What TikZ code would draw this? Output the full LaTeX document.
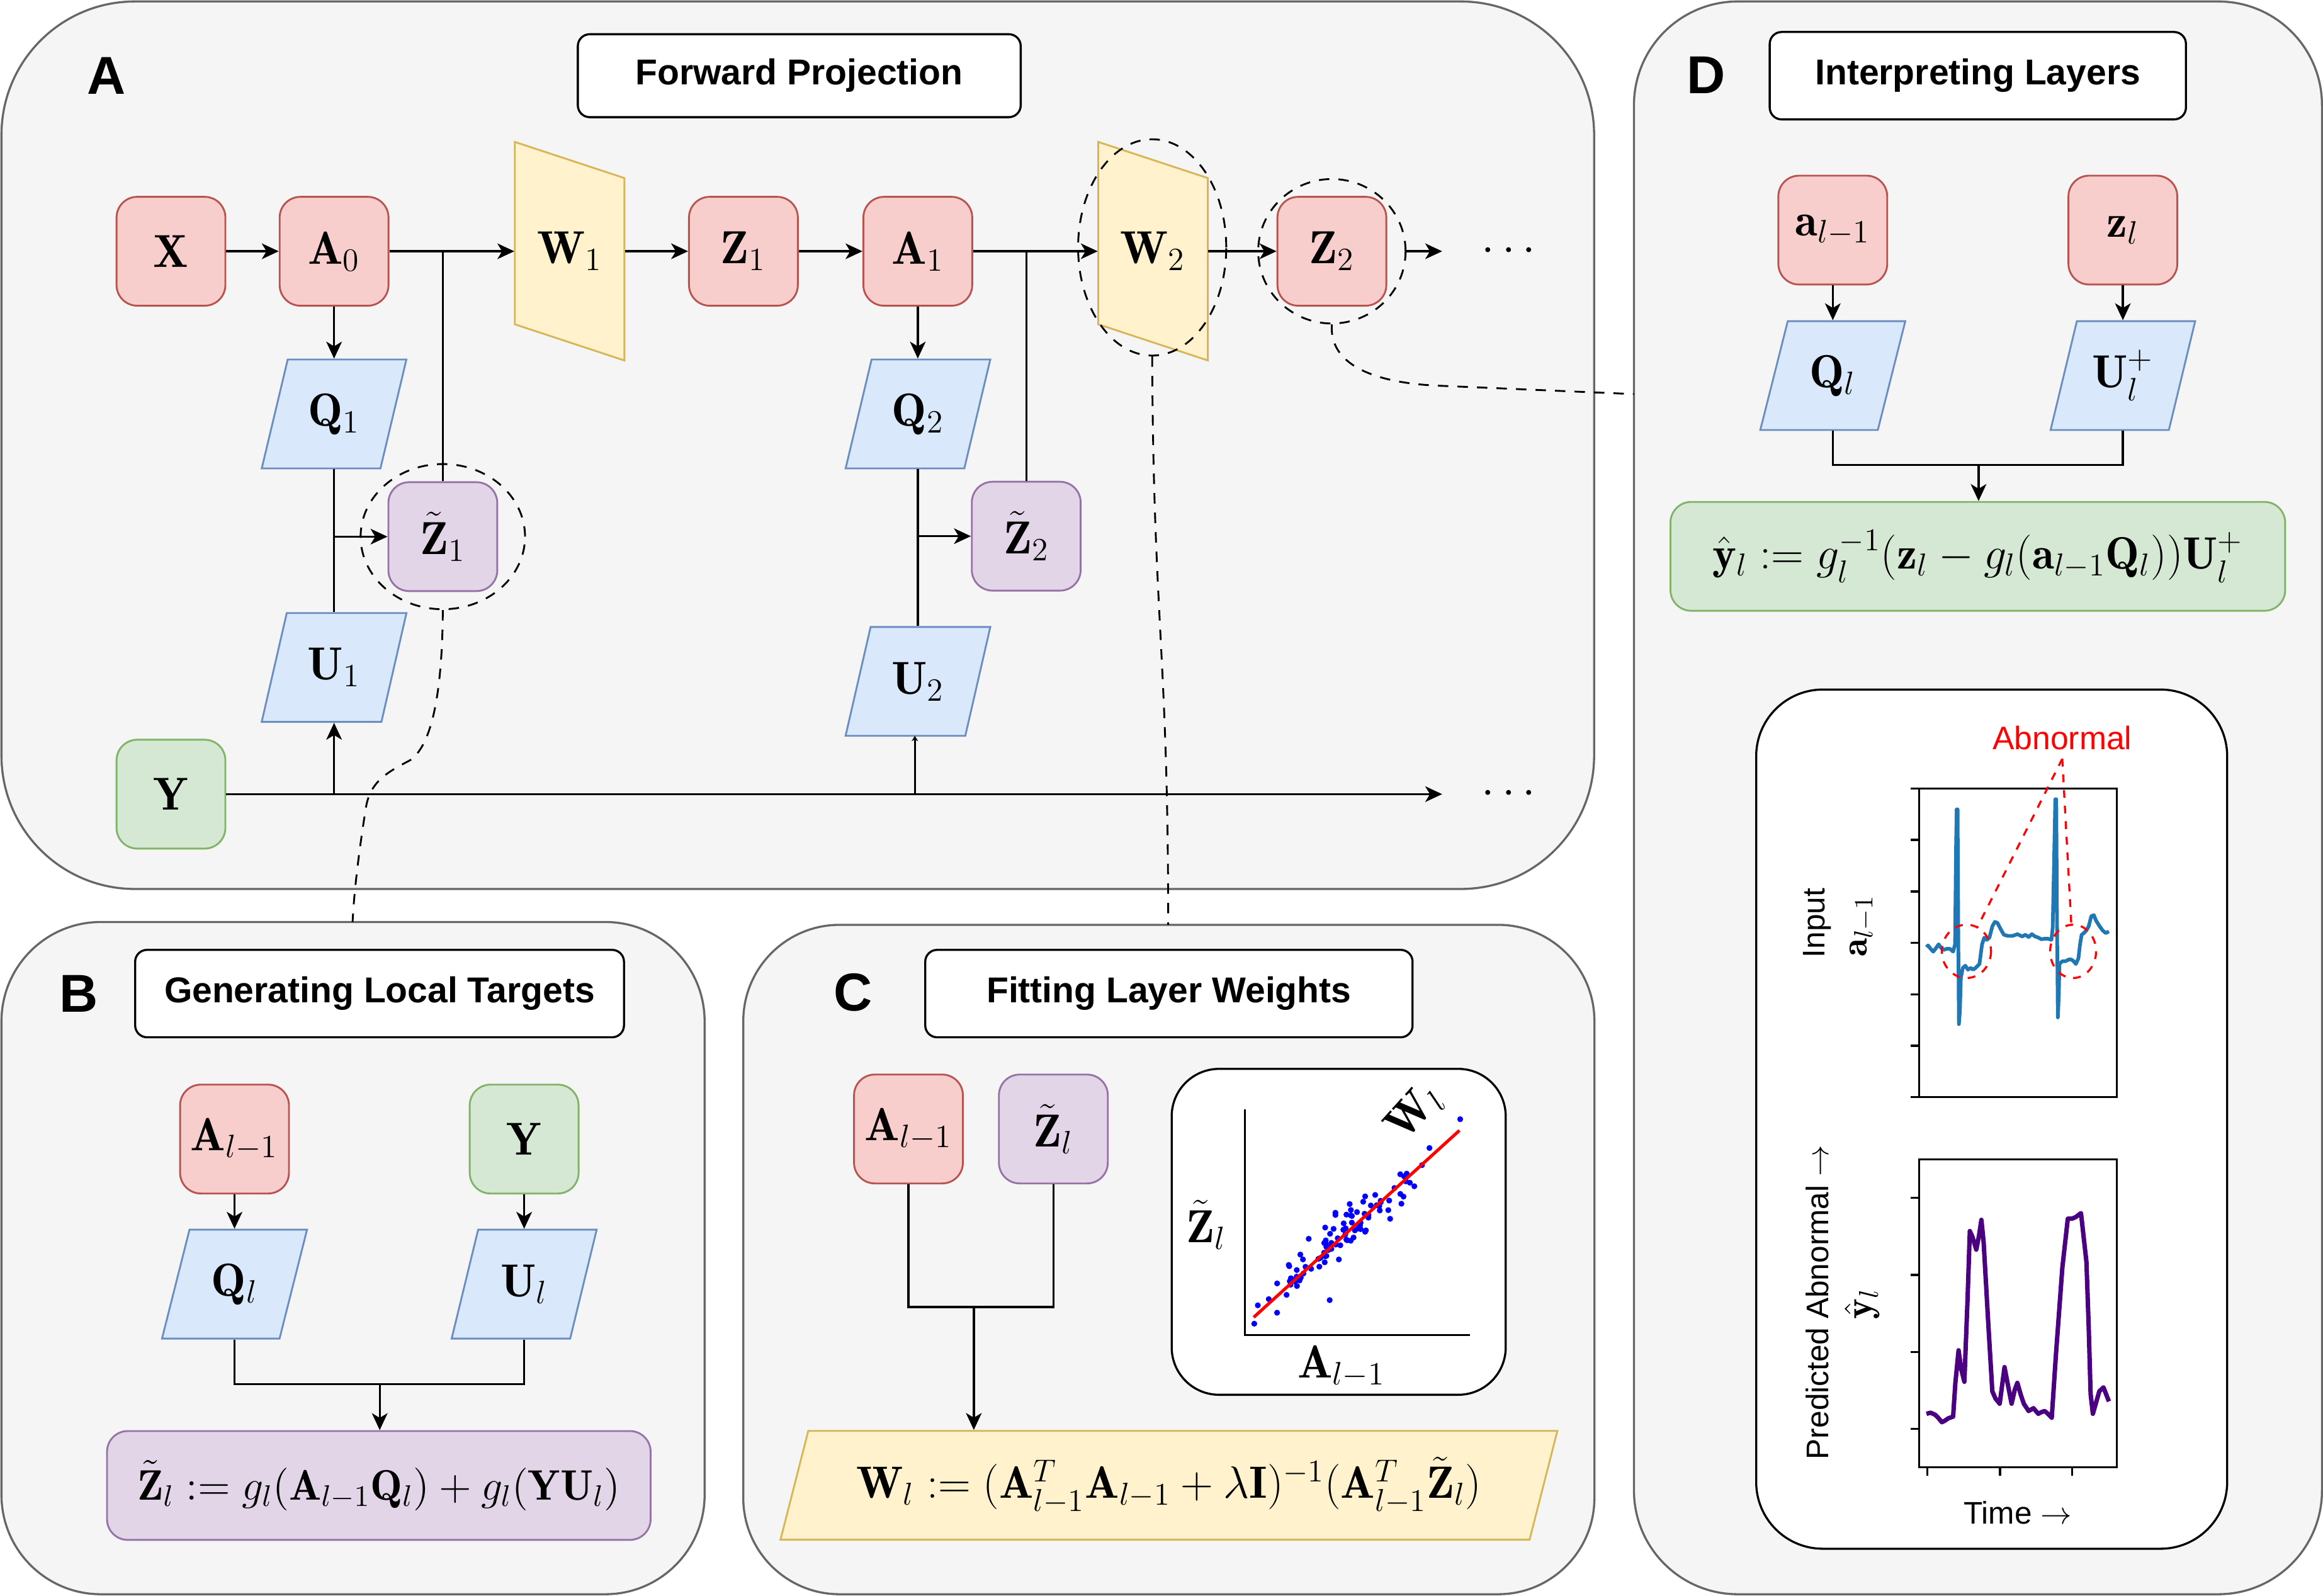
\RequirePackage{fix-cm}
\documentclass[tikz,border=0pt]{standalone}
\usepackage{amsmath}
\usepackage{fontspec}
\setsansfont{Liberation Sans}
\usetikzlibrary{positioning, shapes.geometric, arrows.meta, calc}

\definecolor{redfill}{HTML}{F8CECC}
\definecolor{reddraw}{HTML}{B85450}
\definecolor{yelfill}{HTML}{FFF2CC}
\definecolor{yeldraw}{HTML}{D6B656}
\definecolor{bluefill}{HTML}{DAE8FC}
\definecolor{bluedraw}{HTML}{6C8EBF}
\definecolor{purpfill}{HTML}{E1D5E7}
\definecolor{purpdraw}{HTML}{9673A6}
\definecolor{grnfill}{HTML}{D5E8D4}
\definecolor{grndraw}{HTML}{82B366}
\definecolor{panelfill}{HTML}{F5F5F5}
\definecolor{paneldraw}{HTML}{666666}
\definecolor{ecgblue}{HTML}{1F77B4}
\definecolor{predpurple}{HTML}{4B0082}

\tikzset{
	panel/.style={draw=paneldraw, fill=panelfill, line width=0.8pt},
	titlebox/.style={draw, fill=white, rounded corners=0.16cm, line width=0.8pt,
		font=\sffamily\bfseries\fontsize{13.8}{16}\selectfont},
	panelletter/.style={font=\sffamily\bfseries\fontsize{20.5}{24}\selectfont},
	mathfont/.style={font=\fontsize{17.8}{20}\selectfont},
	blk/.style={rectangle, rounded corners=0.28cm, minimum width=1.47cm,
		minimum height=1.47cm, line width=0.7pt, mathfont},
	redbox/.style={blk, draw=reddraw, fill=redfill},
	grnbox/.style={blk, draw=grndraw, fill=grnfill},
	purpbox/.style={blk, draw=purpdraw, fill=purpfill},
	para/.style={trapezium, trapezium left angle=71.7, trapezium right angle=108.3,
		trapezium stretches=true, minimum width=1.96cm, minimum height=1.47cm,
		draw=bluedraw, fill=bluefill, line width=0.7pt, mathfont},
	wshape/.style={draw=yeldraw, fill=yelfill, line width=0.7pt},
	wtext/.style={rectangle, minimum width=1.48cm, minimum height=1.47cm, mathfont},
	ringmark/.style={ellipse, draw, dash pattern=on 4pt off 3.5pt, line width=0.7pt, inner sep=0pt},
	lead/.style={dash pattern=on 4pt off 3.5pt, line width=0.7pt},
	conn/.style={line width=0.8pt},
	arr/.style={conn, -{Stealth[length=6.5pt, width=6pt, inset=1.8pt]}},
	tinyarr/.style={conn, -{Stealth[length=2pt, width=2.5pt]}},
	formula/.style={font=\fontsize{17.4}{20}\selectfont},
	plotlabel/.style={font=\sffamily\fontsize{12}{14}\selectfont},
}

\begin{document}
\begin{tikzpicture}[x=0.02cm, y=-0.02cm]
	\useasboundingbox (0,0) rectangle (1568,1077);

	% Panels
	\draw[panel, rounded corners=1.8cm] (1,1) rectangle (1076,600);
	\draw[panel, rounded corners=1.34cm] (1,622.3) rectangle (475.6,1076);
	\draw[panel, rounded corners=1.3cm] (501.7,624.2) rectangle (1076.2,1076);
	\draw[panel, rounded corners=1.4cm] (1102.9,1) rectangle (1567.3,1076);

	% A: forward projection
	\node[panelletter] (la) at (72,51) {A};
	\node[titlebox, minimum width=5.98cm, minimum height=1.12cm] (ta) at (539.5,51.1) {Forward Projection};

	\coordinate (w1c) at (384.5,169.6);
	\coordinate (w2c) at (778.3,169.6);
	\foreach \w in {w1c, w2c}
		\filldraw[wshape] ($(\w)+(-37,-73.8)$) -- ++(74,24.4) -- ++(0,123.1)
			-- ++(-74,-24.4) -- cycle;

	\node[redbox] (x) at (115.4,169.6) {$\mathbf{X}$};
	\node[redbox] (a0) at (225.5,169.6) {$\mathbf{A}_0$};
	\node[wtext] (w1) at (w1c) {$\mathbf{W}_1$};
	\node[redbox] (z1) at (501.8,169.6) {$\mathbf{Z}_1$};
	\node[redbox] (a1) at (619.5,169.6) {$\mathbf{A}_1$};
	\node[wtext] (w2) at (w2c) {$\mathbf{W}_2$};
	\node[redbox] (z2) at (899,169.6) {$\mathbf{Z}_2$};
	\node[mathfont, inner xsep=15pt] (dots1) at (1021,169.6) {$\cdots$};

	\node[para] (q1) at (225.5,279.4) {$\mathbf{Q}_1$};
	\node[purpbox] (zt1) at (298.9,362.2) {$\tilde{\mathbf{Z}}_1$};
	\node[para] (u1) at (225.5,450.5) {$\mathbf{U}_1$};
	\node[para] (q2) at (619.6,279.4) {$\mathbf{Q}_2$};
	\node[purpbox] (zt2) at (692.7,361.9) {$\tilde{\mathbf{Z}}_2$};
	\node[para] (u2) at (619.6,459.9) {$\mathbf{U}_2$};

	\node[grnbox] (y) at (115.4,536) {$\mathbf{Y}$};
	\node[mathfont, inner xsep=15pt] (dots2) at (1021,536) {$\cdots$};

	\draw[arr] (x) -- (a0);
	\draw[arr] (a0) -- (w1);
	\draw[arr] (w1) -- (z1);
	\draw[arr] (z1) -- (a1);
	\draw[arr] (a1) -- (w2);
	\draw[arr] (w2) -- (z2);
	\draw[arr] (y) -- (dots2);

	\draw[arr] (a0) -- (a0 |- q1.north);
	\draw[conn] (a0 |- q1.south) -- (a0 |- u1.north);
	\draw[arr] (a0 |- zt1) -- (zt1);
	\draw[conn] (zt1.north) -- (zt1.north |- a0);
	\draw[arr] (a0 |- y) -- (a0 |- u1.south);

	\draw[arr] (a1) -- (a1 |- q2.north);
	\draw[conn] (a1 |- q2.south) -- (a1 |- u2.north);
	\draw[arr] (a1 |- zt2) -- (zt2);
	\draw[conn] (zt2.north) -- (zt2.north |- a1);
	\draw[tinyarr] (617.5,536) -- (617.5,496.7);

	% rings
	\node[ringmark, minimum width=2.22cm, minimum height=1.96cm] (zt1ring) at (zt1) {};
	\node[ringmark, minimum width=2.0cm, minimum height=2.92cm] (w2ring) at (777.7,167) {};
	\node[ringmark, minimum width=1.99cm, minimum height=1.95cm] (z2ring) at (z2) {};
	\draw[arr] (z2ring.east) -- (dots1);

	% leads to B, C, D
	\coordinate (btop) at (238,622.3);
	\coordinate (ctop) at (788.5,624.2);
	\coordinate (dleft) at (1102.9,266);
	\draw[lead] (zt1ring.south) .. controls (298.5,470) and (291,503) .. (277,513)
		.. controls (262,521) and (250,527) .. (247,545)
		.. controls (243,570) and (239,600) .. (btop);
	\draw[lead] (w2ring.south) .. controls (778.5,420) and (788.5,440) .. (ctop);
	\draw[lead] (z2ring.south) .. controls (897,245) and (925,259) .. (975,260.5) -- (dleft);

	% B: local targets
	\node[panelletter] (lb) at (53,670.5) {B};
	\node[titlebox, minimum width=6.6cm, minimum height=1.18cm] (tb) at (256.2,670.6) {Generating Local Targets};
	\node[redbox] (ba) at (158.3,768.8) {$\mathbf{A}_{l-1}$};
	\node[grnbox] (by) at (353.8,768.8) {$\mathbf{Y}$};
	\node[para] (bq) at (158.3,866.7) {$\mathbf{Q}_l$};
	\node[para] (bu) at (353.8,866.7) {$\mathbf{U}_l$};
	\node[purpbox, formula, font=\fontsize{16.4}{19}\selectfont, minimum width=7.34cm] (bf) at (255.7,1002.6)
		{$\tilde{\mathbf{Z}}_l := g_l(\mathbf{A}_{l-1}\mathbf{Q}_l) + g_l(\mathbf{Y}\mathbf{U}_l)$};
	\coordinate (bmid) at (256.3,934.3);
	\draw[arr] (ba) -- (ba |- bq.north);
	\draw[arr] (by) -- (by |- bu.north);
	\draw[conn] (ba |- bq.south) |- (bmid) -| (by |- bu.south);
	\draw[arr] (bmid) -- (bmid |- bf.north);

	% C: layer weights
	\node[panelletter] (lc) at (575.8,669.8) {C};
	\node[titlebox, minimum width=6.58cm, minimum height=1.18cm] (tc) at (789,670.6) {Fitting Layer Weights};
	\node[redbox] (ca) at (613.2,762) {$\mathbf{A}_{l-1}$};
	\node[purpbox] (cz) at (711,762) {$\tilde{\mathbf{Z}}_l$};
	\node[para, formula, draw=yeldraw, fill=yelfill, minimum width=10.51cm,
		trapezium left angle=71.5, trapezium right angle=108.5] (cf) at (789,1002.5)
		{$\mathbf{W}_l := (\mathbf{A}_{l-1}^{T}\mathbf{A}_{l-1} + \lambda\mathbf{I})^{-1}(\mathbf{A}_{l-1}^{T}\tilde{\mathbf{Z}}_l)$};
	\coordinate (cmid) at (657.3,882.1);
	\draw[conn] (ca.south) |- (cmid) -| (cz.south);
	\draw[arr] (cmid) -- (cmid |- cf.north);

	\node[draw, fill=white, rounded corners=0.64cm, line width=0.8pt,
		minimum width=4.51cm, minimum height=4.4cm] (plotc) at (903.6,831.4) {};
	\draw[line width=0.6pt] (840.3,748.9) -- (840.3,901) -- (992.1,901);
	\pgfmathsetseed{11}
	\foreach \i in {1,...,95} {
		\pgfmathsetmacro\tpos{0.03+0.88*(rnd+rnd)/2}
		\pgfmathsetmacro\dpos{(rnd+rnd+rnd-1.5)*12}
		\fill[blue] ({846.2+138.9*\tpos+0.672*\dpos},{889.1-126.1*\tpos+0.740*\dpos}) circle [radius=2];
	}
	\foreach \p in {(846.6,893.4), (985.6,755.4), (849,881), (862,886), (897.5,877.5)}
		\fill[blue] \p circle [radius=2];
	\draw[red, line width=1.2pt] (846.2,889.1) -- (985.1,763.0);
	\node[mathfont] (czlab) at (814.3,826.5) {$\tilde{\mathbf{Z}}_l$};
	\node[mathfont] (calab) at (905.4,922.4) {$\mathbf{A}_{l-1}$};
	\node[mathfont, rotate=48] (cwlab) at (955,751) {$\mathbf{W}_l$};

	% D: interpreting layers
	\node[panelletter] (ld) at (1151.4,50.8) {D};
	\node[titlebox, minimum width=5.62cm, minimum height=1.18cm] (td) at (1335,51.1) {Interpreting Layers};
	\node[redbox] (da) at (1237.1,155.3) {$\mathbf{a}_{l-1}$};
	\node[redbox] (dz) at (1432.9,155.3) {$\mathbf{z}_l$};
	\node[para] (dq) at (1237.1,253.5) {$\mathbf{Q}_l$};
	\node[para] (du) at (1432.9,253.5) {$\mathbf{U}_l^{+}$};
	\node[grnbox, formula, minimum width=8.3cm] (df) at (1335,375.5)
		{$\hat{\mathbf{y}}_l := g_l^{-1}(\mathbf{z}_l - g_l(\mathbf{a}_{l-1}\mathbf{Q}_l))\mathbf{U}_l^{+}$};
	\coordinate (dmid) at (1335.5,313.9);
	\draw[arr] (da) -- (da |- dq.north);
	\draw[arr] (dz) -- (dz |- du.north);
	\draw[conn] (da |- dq.south) |- (dmid) -| (dz |- du.south);
	\draw[arr] (dmid) -- (dmid |- df.north);

	\draw[fill=white, line width=0.8pt, rounded corners=0.9cm] (1185.4,465.4) rectangle (1503.3,1045.3);
	\draw[line width=0.8pt] (1295.3,532.2) rectangle (1428.9,740.5);
	\foreach \k in {0,...,6}
		\draw[line width=0.8pt] (1289.7,532.2+34.72*\k) -- ++(5.6,0);
	\draw[line width=0.8pt] (1295.3,782.6) rectangle (1428.9,990.2);
	\foreach \k in {0,...,3}
		\draw[line width=0.8pt] (1289.7,808.5+51.97*\k) -- ++(5.6,0);
	\foreach \tx in {1301.0, 1350.0, 1398.6}
		\draw[line width=0.8pt] (\tx,990.2) -- ++(0,5.7);

	\begin{scope}[shift={(1168.7,459)}, xscale=0.21684, yscale=0.37948]
		\draw[ecgblue, line width=1.4pt, line join=round] plot coordinates {
			(607,475) (612,472) (620,478) (628,483) (635,478) (645,470) (652,476)
			(660,480) (670,478) (680,478) (690,483) (696,470) (699,300) (701,230)
			(704,230) (706,450) (708,612) (711,590) (714,530) (720,512) (728,508)
			(736,515) (745,512) (752,515) (760,512) (772,505) (780,470) (787,458)
			(795,462) (803,458) (812,438) (820,430) (828,432) (838,443) (848,453)
			(860,455) (875,455) (890,452) (905,456) (915,453) (925,457) (935,452)
			(945,456) (955,458) (965,461) (975,460) (985,460) (996,462) (1000,440)
			(1005,300) (1008,212) (1011,212) (1013,400) (1016,600) (1019,560)
			(1021,505) (1030,500) (1040,500) (1050,497) (1058,497) (1065,500)
			(1072,505) (1080,495) (1085,470) (1090,453) (1097,450) (1105,445)
			(1112,438) (1120,420) (1128,418) (1135,428) (1145,437) (1155,445)
			(1165,450) (1175,447)};
		\draw[predpurple, line width=1.7pt, line join=round] plot coordinates {
			(607,1305) (620,1303) (635,1307) (645,1313) (655,1320) (665,1317)
			(675,1313) (690,1310) (697,1250) (707,1192) (715,1225) (725,1248)
			(735,1100) (742,980) (750,990) (762,1013) (770,990) (778,960)
			(785,1000) (800,1150) (812,1265) (822,1278) (835,1287) (850,1222)
			(860,1252) (872,1287) (882,1262) (890,1250) (900,1270) (910,1287)
			(925,1300) (940,1295) (955,1305) (965,1302) (975,1300) (985,1305)
			(997,1312) (1010,1200) (1030,1045) (1047,958) (1060,958) (1072,955)
			(1088,948) (1105,1035) (1112,1150) (1118,1270) (1125,1305) (1135,1285)
			(1145,1265) (1158,1258) (1175,1283)};
	\end{scope}

	\node[plotlabel, red, font=\sffamily\fontsize{12.5}{14}\selectfont] (abn) at (1392,497.9) {Abnormal};
	\draw[red, dashed, line width=0.8pt] (1327.3,642.1) ellipse [x radius=16.6, y radius=18];
	\draw[red, dashed, line width=0.8pt] (1399.3,642.1) ellipse [x radius=15.5, y radius=18];
	\draw[red, dashed, line width=0.8pt] (abn.south) -- (1334.6,626);
	\draw[red, dashed, line width=0.8pt] (abn.south) -- (1398.1,624.1);

	\node[plotlabel] (time) at (1362,1021) {Time $\rightarrow$};
	\node[plotlabel, rotate=90] (inp) at (1226.7,623) {Input};
	\node[rotate=90, font=\fontsize{14.5}{16}\selectfont] (inpm) at (1257,625) {$\mathbf{a}_{l-1}$};
	\node[plotlabel, rotate=90] (pred) at (1226.7,879) {Predicted Abnormal $\rightarrow$};
	\node[rotate=90, font=\fontsize{15}{16}\selectfont] (predm) at (1257,880) {$\hat{\mathbf{y}}_l$};
\end{tikzpicture}
\end{document}
